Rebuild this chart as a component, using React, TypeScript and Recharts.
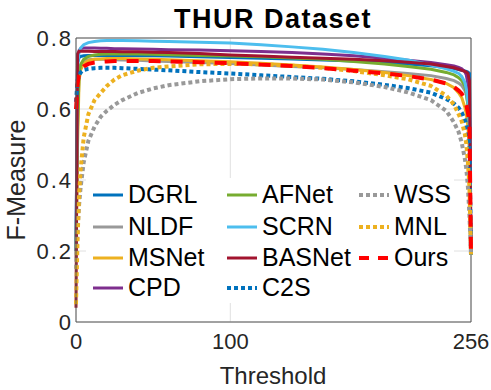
import { LineChart, Line, XAxis, YAxis, CartesianGrid, ReferenceLine } from 'recharts';

const thresholds = [0, 1, 2, 3, 5, 8, 12, 16, 20, 25, 30, 40, 50, 60, 80, 100, 120, 140, 160, 180, 200, 215, 230, 240, 245, 248, 250, 252, 253, 254, 255, 256];

const dgrl = [0.2, 0.73, 0.745, 0.748, 0.75, 0.751, 0.751, 0.751, 0.751, 0.751, 0.751, 0.75, 0.75, 0.749, 0.747, 0.745, 0.743, 0.741, 0.738, 0.735, 0.731, 0.727, 0.722, 0.717, 0.714, 0.711, 0.709, 0.707, 0.706, 0.704, 0.7, 0.19];
const nldf = [0.18, 0.6, 0.7, 0.725, 0.735, 0.739, 0.74, 0.74, 0.74, 0.739, 0.738, 0.737, 0.735, 0.734, 0.731, 0.728, 0.724, 0.72, 0.716, 0.711, 0.705, 0.7, 0.694, 0.686, 0.68, 0.673, 0.666, 0.652, 0.64, 0.615, 0.55, 0.19];
const msnet = [0.2, 0.5, 0.68, 0.71, 0.728, 0.736, 0.74, 0.741, 0.742, 0.742, 0.742, 0.741, 0.74, 0.739, 0.736, 0.733, 0.729, 0.724, 0.718, 0.711, 0.703, 0.694, 0.683, 0.672, 0.66, 0.645, 0.632, 0.605, 0.585, 0.55, 0.48, 0.19];
const cpd = [0.2, 0.74, 0.765, 0.77, 0.772, 0.772, 0.772, 0.771, 0.771, 0.77, 0.77, 0.769, 0.768, 0.767, 0.766, 0.764, 0.762, 0.759, 0.755, 0.75, 0.743, 0.737, 0.731, 0.725, 0.721, 0.717, 0.713, 0.705, 0.695, 0.67, 0.6, 0.19];
const afnet = [0.2, 0.55, 0.7, 0.725, 0.74, 0.748, 0.752, 0.754, 0.755, 0.755, 0.755, 0.755, 0.754, 0.753, 0.751, 0.749, 0.747, 0.744, 0.74, 0.734, 0.727, 0.72, 0.712, 0.703, 0.696, 0.688, 0.68, 0.665, 0.645, 0.61, 0.54, 0.19];
const scrn = [0.2, 0.72, 0.76, 0.772, 0.781, 0.787, 0.79, 0.792, 0.793, 0.793, 0.793, 0.792, 0.791, 0.79, 0.788, 0.786, 0.781, 0.775, 0.768, 0.759, 0.748, 0.738, 0.724, 0.713, 0.706, 0.7, 0.692, 0.675, 0.655, 0.62, 0.55, 0.19];
const basnet = [0.04, 0.755, 0.763, 0.763, 0.763, 0.763, 0.762, 0.762, 0.762, 0.762, 0.761, 0.761, 0.76, 0.759, 0.756, 0.752, 0.749, 0.746, 0.743, 0.74, 0.736, 0.732, 0.727, 0.72, 0.716, 0.712, 0.709, 0.706, 0.704, 0.7, 0.68, 0.2];
const c2s = [0.62, 0.68, 0.695, 0.703, 0.71, 0.713, 0.715, 0.716, 0.716, 0.716, 0.715, 0.713, 0.711, 0.709, 0.704, 0.7, 0.695, 0.69, 0.685, 0.678, 0.668, 0.659, 0.646, 0.628, 0.615, 0.603, 0.59, 0.57, 0.555, 0.53, 0.49, 0.19];
const wss = [0.15, 0.26, 0.33, 0.38, 0.45, 0.51, 0.55, 0.578, 0.595, 0.612, 0.625, 0.645, 0.658, 0.667, 0.678, 0.684, 0.686, 0.686, 0.683, 0.675, 0.662, 0.647, 0.625, 0.595, 0.562, 0.535, 0.505, 0.46, 0.43, 0.38, 0.3, 0.19];
const mnl = [0.05, 0.23, 0.36, 0.43, 0.52, 0.585, 0.625, 0.645, 0.665, 0.683, 0.695, 0.708, 0.716, 0.72, 0.726, 0.727, 0.726, 0.722, 0.716, 0.707, 0.695, 0.684, 0.665, 0.638, 0.612, 0.585, 0.565, 0.53, 0.5, 0.45, 0.38, 0.19];
const ours = [0.6, 0.67, 0.7, 0.71, 0.72, 0.727, 0.731, 0.733, 0.734, 0.735, 0.735, 0.735, 0.735, 0.734, 0.732, 0.729, 0.725, 0.721, 0.715, 0.708, 0.7, 0.693, 0.683, 0.672, 0.662, 0.652, 0.643, 0.625, 0.61, 0.59, 0.56, 0.19];

const xTicks = [0, 100, 256];
const yTicks = [0, 0.2, 0.4, 0.6, 0.8];

// drawing order follows the legend, "Ours" ends up on top
const series = [
  { name: 'DGRL', values: dgrl, color: '#0072BD', dash: undefined, width: 3 },
  { name: 'NLDF', values: nldf, color: '#999999', dash: undefined, width: 3 },
  { name: 'MSNet', values: msnet, color: '#EDB120', dash: undefined, width: 3 },
  { name: 'CPD', values: cpd, color: '#7E2F8E', dash: undefined, width: 3 },
  { name: 'AFNet', values: afnet, color: '#77AC30', dash: undefined, width: 3 },
  { name: 'SCRN', values: scrn, color: '#4DBEEE', dash: undefined, width: 3 },
  { name: 'BASNet', values: basnet, color: '#A2142F', dash: undefined, width: 3 },
  { name: 'C2S', values: c2s, color: '#0072BD', dash: '4 3', width: 4 },
  { name: 'WSS', values: wss, color: '#999999', dash: '4 3', width: 4 },
  { name: 'MNL', values: mnl, color: '#EDB120', dash: '4 3', width: 4 },
  { name: 'Ours', values: ours, color: '#FF0000', dash: '12 10', width: 4 },
];

const data = thresholds.map((t, i) => {
  const row: Record<string, number> = { t };
  series.forEach((s) => {
    row[s.name] = s.values[i];
  });
  return row;
});

const FONT = '"Liberation Sans", Arial, Helvetica, sans-serif';
const legendCols = [93, 227, 359];
const legendRows = [195, 227, 258, 288];

function Legend() {
  return (
    <div style={{ position: 'absolute', left: 86, top: 178, width: 368, height: 125, background: '#fff' }}>
      {series.map((s, i) => {
        const col = Math.floor(i / 4);
        const row = i % 4;
        const x = legendCols[col] - 86;
        const y = legendRows[row] - 178;
        return (
          <div key={s.name}>
            <svg width={30} height={6} style={{ position: 'absolute', left: x, top: y - 3 }}>
              <line x1={0} y1={3} x2={30} y2={3} stroke={s.color} strokeWidth={s.width} strokeDasharray={s.name === 'Ours' ? '10 9' : s.dash} />
            </svg>
            <div style={{ position: 'absolute', left: x + 35, top: y - 13, fontSize: 25, lineHeight: '25px', color: '#000', whiteSpace: 'nowrap' }}>
              {s.name}
            </div>
          </div>
        );
      })}
    </div>
  );
}

export default function App() {
  return (
    <div style={{ position: 'absolute', left: 0, top: 0, width: 491, height: 390, background: '#fff', fontFamily: FONT, overflow: 'hidden' }}>
      <LineChart width={491} height={390} data={data} margin={{ top: 38, right: 20, left: 16, bottom: 38 }}>
        <CartesianGrid stroke="#e0e0e0" vertical horizontal />
        <XAxis
          dataKey="t"
          type="number"
          domain={[0, 256]}
          ticks={xTicks}
          height={30}
          tickSize={0}
          tickMargin={11}
          tickLine={false}
          stroke="#555"
          tick={{ fontSize: 22, fill: '#262626', fontFamily: FONT }}
        />
        <YAxis
          type="number"
          domain={[0, 0.8]}
          ticks={yTicks}
          width={60}
          tickSize={0}
          tickMargin={3}
          tickLine={false}
          stroke="#555"
          tickFormatter={(v: number) => (v === 0 ? '0' : v.toFixed(1))}
          tick={{ fontSize: 22, fill: '#262626', fontFamily: FONT, letterSpacing: 2 }}
        />
        <ReferenceLine y={0.8} stroke="#555" />
        <ReferenceLine x={256} stroke="#555" />
        {series.map((s) => (
          <Line
            key={s.name}
            type="linear"
            dataKey={s.name}
            stroke={s.color}
            strokeWidth={s.width}
            strokeDasharray={s.dash}
            dot={false}
            activeDot={false}
            isAnimationActive={false}
          />
        ))}
      </LineChart>
      <div style={{ position: 'absolute', left: 273, top: 6, transform: 'translateX(-50%)', fontSize: 27, lineHeight: '27px', fontWeight: 'bold', letterSpacing: 1.5, color: '#000', whiteSpace: 'nowrap' }}>
        THUR Dataset
      </div>
      <div style={{ position: 'absolute', left: 273, top: 364, transform: 'translateX(-50%)', fontSize: 24, lineHeight: '24px', color: '#262626', whiteSpace: 'nowrap' }}>
        Threshold
      </div>
      <div style={{ position: 'absolute', left: 16, top: 180, transform: 'translate(-50%, -50%) rotate(-90deg)', fontSize: 25, lineHeight: '25px', color: '#262626', whiteSpace: 'nowrap' }}>
        F-Measure
      </div>
      <Legend />
    </div>
  );
}
